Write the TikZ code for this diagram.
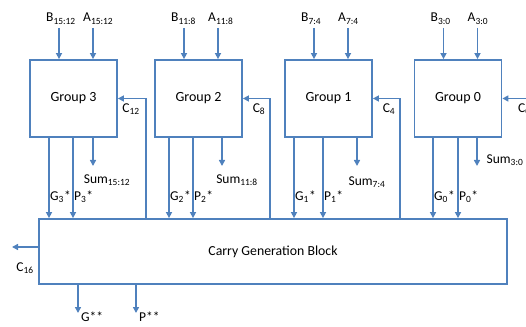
\documentclass[tikz,border=0pt]{standalone}
\usepackage{fontspec}
\setmainfont{Carlito}
\usepackage{tikz}
\usetikzlibrary{arrows.meta, positioning, calc}
\definecolor{linkblue}{RGB}{79,129,189}

\begin{document}
\begin{tikzpicture}[x=1pt, y=1pt, >={Triangle[length=6pt, width=6pt]}]
  % --- STYLE DEFINITIONS ---
  \tikzstyle{wire}=[draw=linkblue, line width=1.8pt]
  \tikzstyle{groupbox}=[draw=linkblue, line width=1.8pt, minimum width=87pt, minimum height=77pt, inner sep=0pt, font=\fontsize{14}{16}\selectfont]
  \tikzstyle{sigtext}=[inner sep=0pt, font=\fontsize{13.5}{16}\selectfont]

  \useasboundingbox (0,0) rectangle (526,326);

  % =================================================================
  % GROUP BLOCKS, OPERAND INPUTS, G/P OUTPUTS
  % =================================================================
  \foreach \n/\x/\rng/\gx/\px/\sx in {3/73.5/15:12/49/73/93,
                                       2/198.5/11:8/169/193/222,
                                       1/328.5/7:4/294/323/357,
                                       0/458/3:0/433/458/477}{
    \node[groupbox] (g\n) at (\x, 227.5) {Group \n};
    % operands
    \coordinate (b\n) at (\x-14.5, 298);
    \coordinate (a\n) at (\x+19.5, 298);
    \node[sigtext, anchor=base west] (lb\n) at (\x-27.5, 304) {B\textsubscript{\rng}};
    \node[sigtext, anchor=base west] (la\n) at (\x+9.5, 304) {A\textsubscript{\rng}};
    \draw[wire, ->] (b\n) -- (b\n |- g\n.north);
    \draw[wire, ->] (a\n) -- (a\n |- g\n.north);
    % group generate / propagate
    \coordinate (gg\n) at (\gx, 0);
    \coordinate (gp\n) at (\px, 0);
    \node[sigtext, anchor=west] (lg\n) at (\gx+1, 129) {G\textsubscript{\n}*};
    \node[sigtext, anchor=west] (lp\n) at (\px+1, 129) {P\textsubscript{\n}*};
    % sum
    \coordinate (s\n) at (\sx, 160);
    \draw[wire, ->] (s\n |- g\n.south) -- (s\n);
  }

  % =================================================================
  % CARRY GENERATION BLOCK
  % =================================================================
  \node[draw=linkblue, line width=1.8pt, minimum width=468pt, minimum height=65pt, inner sep=0pt,
        font=\fontsize{13.8}{16}\selectfont] (cgb) at (273, 74.5) {Carry Generation Block};

  \foreach \n in {3,2,1,0}{
    \draw[wire, ->] (gg\n |- g\n.south) -- (gg\n |- cgb.north);
    \draw[wire, ->] (gp\n |- g\n.south) -- (gp\n |- cgb.north);
  }

  % sum labels
  \node[sigtext] (ls3) at (107, 146) {Sum\textsubscript{15:12}};
  \node[sigtext] (ls2) at (237, 146) {Sum\textsubscript{11:8}};
  \node[sigtext] (ls1) at (367, 144) {Sum\textsubscript{7:4}};
  \node[sigtext] (ls0) at (505, 166) {Sum\textsubscript{3:0}};

  % =================================================================
  % CARRY INPUTS
  % =================================================================
  \coordinate (c12) at (146, 0);
  \coordinate (c8) at (270, 0);
  \coordinate (c4) at (400, 0);
  \draw[wire, ->] (c12 |- cgb.north) |- (g3.east);
  \draw[wire, ->] (c8 |- cgb.north) |- (g2.east);
  \draw[wire, ->] (c4 |- cgb.north) |- (g1.east);
  \coordinate (c0) at (532, 227.5);
  \draw[wire, ->] (c0) -- (g0.east);
  \node[sigtext] (lc12) at (131, 217) {C\textsubscript{12}};
  \node[sigtext] (lc8) at (259, 217) {C\textsubscript{8}};
  \node[sigtext] (lc4) at (389, 217) {C\textsubscript{4}};
  \node[sigtext, anchor=west] (lc0) at (518, 217) {C\textsubscript{0}};

  % =================================================================
  % BLOCK OUTPUTS
  % =================================================================
  \coordinate (c16) at (12, 79);
  \draw[wire, ->] (cgb.west |- c16) -- (c16);
  \node[sigtext] (lc16) at (25, 58) {C\textsubscript{16}};

  \coordinate (gstar) at (78, 13);
  \coordinate (pstar) at (136, 13);
  \draw[wire, ->] (gstar |- cgb.south) -- (gstar);
  \draw[wire, ->] (pstar |- cgb.south) -- (pstar);
  \node[sigtext, anchor=north west] (lgs) at (81, 14) {G**};
  \node[sigtext, anchor=north west] (lps) at (139, 14) {P**};
\end{tikzpicture}
\end{document}
